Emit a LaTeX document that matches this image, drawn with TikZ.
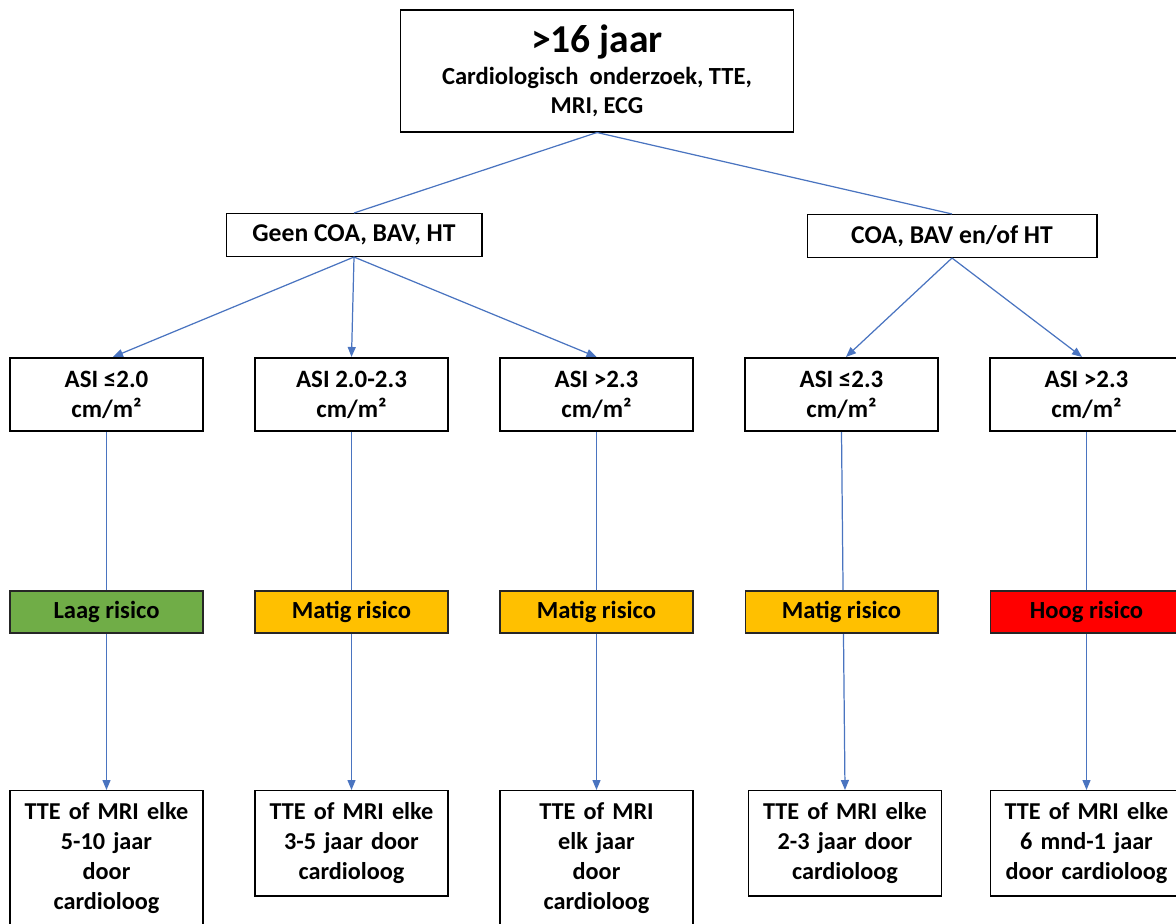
\documentclass[tikz,border=0pt]{standalone}
\usepackage{fontspec}
\setmainfont{Carlito}
\usepackage{tikz}
\usetikzlibrary{arrows.meta,positioning}
\definecolor{LowRisk}{HTML}{70AD47}
\definecolor{MidRisk}{HTML}{FFC000}
\definecolor{HighRisk}{HTML}{FF0000}
\definecolor{Link}{HTML}{4A74C0}

\begin{document}
\begin{tikzpicture}[x=0.02cm,y=-0.02cm,
  box/.style={draw,align=center,inner sep=0pt,font=\bfseries\fontsize{13.8}{17}\selectfont},
  topbox/.style={box,line width=0.6pt,minimum width=7.88cm,minimum height=2.44cm},
  groupbox/.style={box,line width=0.6pt,minimum height=0.86cm,font=\bfseries\fontsize{14.6}{17}\selectfont},
  asibox/.style={box,line width=1.2pt,minimum width=3.86cm,minimum height=1.46cm,font=\bfseries\fontsize{14.2}{17}\selectfont},
  riskbox/.style={box,draw=black!85,line width=0.6pt,minimum width=3.86cm,minimum height=0.84cm,font=\bfseries\fontsize{14}{17}\selectfont},
  planbox/.style={box,line width=0.6pt,text width=3.86cm,anchor=north,inner ysep=7pt},
  link/.style={draw=Link,line width=0.7pt},
  arrow/.style={link,-{Triangle[length=2mm,width=1.6mm]}}
]
\useasboundingbox (0,0) rectangle (1176,923);

% top of the tree
\node[topbox] (age) at (597,71) {{\fontsize{22.5}{26}\selectfont >16 jaar}\\[1pt]
  \fontsize{14}{16}\selectfont Cardiologisch~ onderzoek, TTE,\\MRI, ECG};
\node[groupbox,minimum width=5.12cm] (nocoa) at (354,235) {Geen COA, BAV, HT};
\node[groupbox,minimum width=5.8cm] (coa) at (952,236) {COA, BAV en/of HT};
\draw[link] (age.south) -- (nocoa.north);
\draw[link] (age.south) -- (coa.north);

% ASI classes
\node[asibox] (asi1) at (106.5,394.5) {ASI ≤2.0\\cm/m²};
\node[asibox] (asi2) at (351.5,394.5) {ASI 2.0-2.3\\cm/m²};
\node[asibox] (asi3) at (596.5,394.5) {ASI >2.3\\cm/m²};
\node[asibox] (asi4) at (841.5,394.5) {ASI ≤2.3\\cm/m²};
\node[asibox] (asi5) at (1086.5,394.5) {ASI >2.3\\cm/m²};
\draw[arrow] (nocoa.south) -- ([xshift=0.13cm]asi1.north);
\draw[arrow] (nocoa.south) -- (asi2.north);
\draw[arrow] (nocoa.south) -- (asi3.north);
\draw[arrow] (coa.south) -- ([xshift=0.09cm]asi4.north);
\draw[arrow] (coa.south) -- ([xshift=-0.09cm]asi5.north);

% follow-up
\node[planbox] (plan1) at (106.5,790) {TTE of MRI elke\\5-10 jaar\\door\\cardioloog};
\node[planbox] (plan2) at (351.5,790) {TTE of MRI elke\\3-5 jaar door\\cardioloog};
\node[planbox] (plan3) at (596.5,790) {TTE of MRI\\elk jaar\\door\\cardioloog};
\node[planbox] (plan4) at (845,790) {TTE of MRI elke\\2-3 jaar door\\cardioloog};
\node[planbox] (plan5) at (1086.5,790) {TTE of MRI elke\\6 mnd-1 jaar\\door cardioloog};
\foreach \i in {1,...,5}
  \draw[arrow] (asi\i.south) -- (plan\i.north);

% risk labels on top of the lines
\node[riskbox,fill=LowRisk] (risk1) at (106.5,612) {Laag risico};
\node[riskbox,fill=MidRisk] (risk2) at (351.5,612) {Matig risico};
\node[riskbox,fill=MidRisk] (risk3) at (596.5,612) {Matig risico};
\node[riskbox,fill=MidRisk] (risk4) at (841.5,612) {Matig risico};
\node[riskbox,fill=HighRisk] (risk5) at (1086.5,612) {Hoog risico};
\end{tikzpicture}
\end{document}
